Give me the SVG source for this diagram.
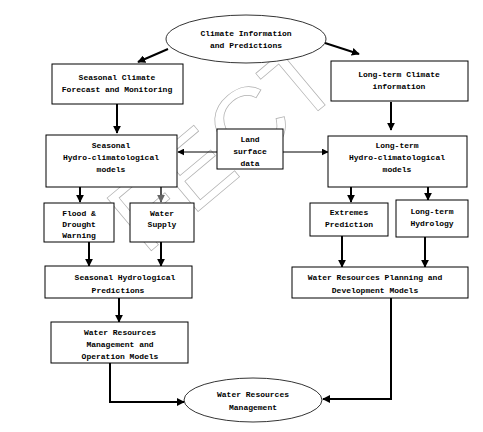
<svg xmlns="http://www.w3.org/2000/svg" width="483" height="432" viewBox="0 0 483 432">
<defs>
<style>
.box{fill:#fff;stroke:#000;stroke-width:1}
.ell{fill:#fff;stroke:#000;stroke-width:0.8}
.t{font-family:"Liberation Mono","Courier New",monospace;font-weight:bold;font-size:8px;fill:#000;text-anchor:middle}
.c{fill:none;stroke:#000;stroke-width:2}
.c1{fill:none;stroke:#000;stroke-width:1}
.wm{font-family:"Liberation Sans",Arial,sans-serif;font-size:100px;fill:none;stroke:#b0b0b0;stroke-width:0.7}
</style>
<marker id="ah" viewBox="0 0 10 10" refX="9" refY="5" markerWidth="4" markerHeight="4" orient="auto" markerUnits="strokeWidth"><path d="M0,0 L10,5 L0,10 z" fill="#000"/></marker>
<marker id="ah1" viewBox="0 0 10 10" refX="9" refY="5" markerWidth="7" markerHeight="7" orient="auto" markerUnits="strokeWidth"><path d="M0,0 L10,5 L0,10 z" fill="#000"/></marker>
<marker id="ahg" viewBox="0 0 10 10" refX="9" refY="5" markerWidth="4" markerHeight="4" orient="auto" markerUnits="strokeWidth"><path d="M0,0 L10,5 L0,10 z" fill="#666"/></marker>
</defs>
<rect width="483" height="432" fill="#fff"/>
<text class="wm" transform="translate(145,256) rotate(-40)">FECT</text>
<g id="connectors">
<path class="c" d="M168,49 L138,62" marker-end="url(#ah)"/>
<path class="c" d="M325,43 L359,54" marker-end="url(#ah)"/>
<path class="c" d="M117,104 L117,133" marker-end="url(#ah)"/>
<path class="c" d="M391,102 L391,130" marker-end="url(#ah)"/>
<path class="c1" d="M217,152 L178,152" marker-end="url(#ah1)"/>
<path class="c1" d="M283,152 L328,152" marker-end="url(#ah1)"/>
<path class="c" d="M80,187 L80,202" marker-end="url(#ah)"/>
<path class="c" d="M161,187 L161,202" style="stroke:#555" marker-end="url(#ahg)"/>
<path class="c" d="M351,187 L351,202" marker-end="url(#ah)"/>
<path class="c" d="M428,187 L428,200" marker-end="url(#ah)"/>
<path class="c" d="M89,242 L89,266" marker-end="url(#ah)"/>
<path class="c" d="M161,242 L161,266" marker-end="url(#ah)"/>
<path class="c" d="M342,236 L342,267" marker-end="url(#ah)"/>
<path class="c" d="M425,237 L425,267" marker-end="url(#ah)"/>
<path class="c" d="M119,298 L119,322" marker-end="url(#ah)"/>
<path class="c" d="M110,363 L110,402 L184,402" marker-end="url(#ah)"/>
<path class="c" d="M391,298 L391,399 L323,399" marker-end="url(#ah)"/>
</g>
<g id="climate-info">
<ellipse class="ell" cx="246" cy="39" rx="80" ry="24"/>
<text class="t" x="246" y="36">Climate Information</text>
<text class="t" x="246" y="48">and Predictions</text>
</g>
<g id="seasonal-forecast">
<rect class="box" x="52" y="64" width="131" height="40"/>
<text class="t" x="117" y="80">Seasonal Climate</text>
<text class="t" x="117" y="92">Forecast and Monitoring</text>
</g>
<g id="longterm-info">
<rect class="box" x="331" y="61" width="137" height="40"/>
<text class="t" x="399" y="77">Long-term Climate</text>
<text class="t" x="399" y="89">information</text>
</g>
<g id="seasonal-models">
<rect class="box" x="46" y="135" width="131" height="52"/>
<text class="t" x="111" y="148">Seasonal</text>
<text class="t" x="111" y="160">Hydro-climatological</text>
<text class="t" x="111" y="172">models</text>
</g>
<g id="land-surface">
<rect class="box" x="217" y="129" width="66" height="40"/>
<text class="t" x="250" y="142">Land</text>
<text class="t" x="250" y="154">surface</text>
<text class="t" x="250" y="166">data</text>
</g>
<g id="longterm-models">
<rect class="box" x="328" y="136" width="139" height="51"/>
<text class="t" x="397" y="148">Long-term</text>
<text class="t" x="397" y="160">Hydro-climatological</text>
<text class="t" x="397" y="172">models</text>
</g>
<g id="flood">
<rect class="box" x="44" y="203" width="70" height="39"/>
<text class="t" x="79" y="216">Flood &amp;</text>
<text class="t" x="79" y="227">Drought</text>
<text class="t" x="79" y="238">Warning</text>
</g>
<g id="water-supply">
<rect class="box" x="130" y="203" width="64" height="39"/>
<text class="t" x="162" y="216">Water</text>
<text class="t" x="162" y="227">Supply</text>
</g>
<g id="extremes">
<rect class="box" x="310" y="203" width="78" height="33"/>
<text class="t" x="349" y="215">Extremes</text>
<text class="t" x="349" y="227">Prediction</text>
</g>
<g id="lt-hydrology">
<rect class="box" x="396" y="200" width="72" height="37"/>
<text class="t" x="432" y="214">Long-term</text>
<text class="t" x="432" y="226">Hydrology</text>
</g>
<g id="seasonal-hydro-pred">
<rect class="box" x="45" y="266" width="147" height="32"/>
<text class="t" x="125" y="280">Seasonal Hydrological</text>
<text class="t" x="118" y="293">Predictions</text>
</g>
<g id="planning">
<rect class="box" x="292" y="267" width="176" height="31"/>
<text class="t" x="375" y="280">Water Resources Planning and</text>
<text class="t" x="375" y="293">Development Models</text>
</g>
<g id="mgmt-models">
<rect class="box" x="51" y="322" width="137" height="41"/>
<text class="t" x="120" y="335">Water Resources</text>
<text class="t" x="120" y="347">Management and</text>
<text class="t" x="120" y="359">Operation Models</text>
</g>
<g id="wr-management">
<ellipse class="ell" cx="253" cy="400" rx="69" ry="22"/>
<text class="t" x="253" y="397">Water Resources</text>
<text class="t" x="253" y="410">Management</text>
</g>
</svg>
